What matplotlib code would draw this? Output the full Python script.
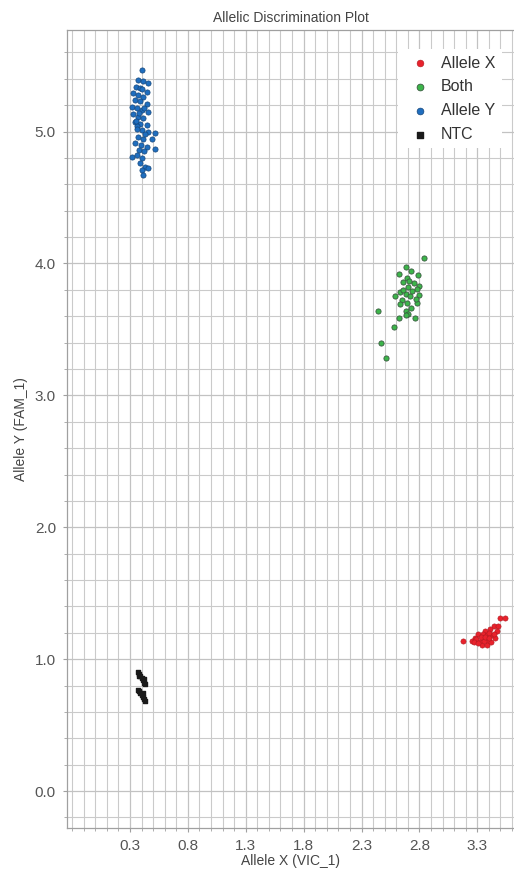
# Allelic discrimination scatter (VIC vs FAM)
import numpy as np
import matplotlib
matplotlib.use('Agg')
import matplotlib.pyplot as plt
from matplotlib.ticker import MultipleLocator, FixedLocator

plt.rcParams['font.family'] = ['Liberation Sans', 'DejaVu Sans']

# Allele X (red)
x_allele_x = [3.50, 3.54, 3.44, 3.48, 3.41, 3.37, 3.47, 3.31, 3.35, 3.38,
              3.42, 3.28, 3.35, 3.45, 3.25, 3.32, 3.39, 3.18, 3.29, 3.34,
              3.38, 3.27, 3.42, 3.40, 3.36, 3.31, 3.44, 3.33, 3.37, 3.40]
y_allele_x = [1.31, 1.31, 1.25, 1.25, 1.23, 1.21, 1.21, 1.19, 1.19, 1.18,
              1.18, 1.16, 1.16, 1.16, 1.14, 1.13, 1.14, 1.14, 1.15, 1.11,
              1.11, 1.13, 1.13, 1.20, 1.14, 1.12, 1.19, 1.17, 1.17, 1.16]

# Both (green)
x_both = [2.84, 2.68, 2.73, 2.62, 2.79, 2.69, 2.66, 2.75, 2.80, 2.70,
          2.78, 2.63, 2.68, 2.59, 2.80, 2.72, 2.65, 2.69, 2.78, 2.63,
          2.73, 2.68, 2.44, 2.70, 2.76, 2.62, 2.68, 2.58, 2.47, 2.51,
          2.71, 2.74, 2.66, 2.77]
y_both = [4.04, 3.97, 3.94, 3.92, 3.91, 3.89, 3.86, 3.85, 3.83, 3.82,
          3.81, 3.78, 3.77, 3.75, 3.76, 3.75, 3.72, 3.70, 3.70, 3.69,
          3.66, 3.64, 3.64, 3.62, 3.59, 3.59, 3.61, 3.52, 3.40, 3.28,
          3.87, 3.79, 3.80, 3.73]

# Allele Y (blue)
x_allele_y = [0.401, 0.366, 0.415, 0.458, 0.349, 0.386, 0.444, 0.328, 0.372, 0.415,
              0.343, 0.386, 0.444, 0.315, 0.358, 0.401, 0.458, 0.328, 0.372, 0.415,
              0.343, 0.386, 0.444, 0.358, 0.401, 0.458, 0.516, 0.372, 0.415, 0.343,
              0.395, 0.444, 0.487, 0.516, 0.378, 0.423, 0.315, 0.358, 0.401, 0.386,
              0.430, 0.401, 0.453, 0.415, 0.360, 0.420, 0.400, 0.380, 0.430, 0.350]
y_allele_y = [5.47, 5.39, 5.38, 5.37, 5.34, 5.33, 5.30, 5.29, 5.28, 5.26,
              5.24, 5.23, 5.21, 5.19, 5.18, 5.16, 5.15, 5.13, 5.11, 5.10,
              5.07, 5.06, 5.05, 5.04, 5.01, 5.00, 4.99, 4.96, 4.94, 4.91,
              4.90, 4.88, 4.94, 4.87, 4.86, 4.85, 4.81, 4.82, 4.80, 4.76,
              4.73, 4.71, 4.72, 4.67, 5.02, 5.18, 5.32, 5.14, 4.98, 5.08]

# No template control (black), two small slanted clumps
x_ntc = [0.37, 0.38, 0.39, 0.40, 0.41, 0.42, 0.43, 0.38, 0.42,
         0.37, 0.38, 0.39, 0.40, 0.41, 0.42, 0.43, 0.41]
y_ntc = [0.90, 0.89, 0.87, 0.86, 0.84, 0.82, 0.81, 0.87, 0.85,
         0.77, 0.76, 0.74, 0.73, 0.71, 0.70, 0.68, 0.74]

x_ticks = [0.3, 0.8, 1.3, 1.8, 2.3, 2.8, 3.3]
y_ticks = [0.0, 1.0, 2.0, 3.0, 4.0, 5.0]

W, H = 514, 874
fig = plt.figure(figsize=(W / 100, H / 100), dpi=100)
ax = fig.add_axes([67 / W, (H - 828) / H, (W - 67) / W, (828 - 30) / H])

ax.set_xlim(-0.244, 3.617)
ax.set_ylim(-0.28, 5.77)

ax.xaxis.set_major_locator(FixedLocator(x_ticks))
ax.xaxis.set_minor_locator(MultipleLocator(0.1))
ax.yaxis.set_major_locator(FixedLocator(y_ticks))
ax.yaxis.set_minor_locator(MultipleLocator(0.2))
ax.set_xticklabels([f'{v:.1f}' for v in x_ticks])
ax.set_yticklabels([f'{v:.1f}' for v in y_ticks])

ax.grid(True, which='major', color='#c2c2c2', linewidth=0.9)
ax.grid(True, which='minor', color='#cacaca', linewidth=0.8)
ax.set_axisbelow(True)

ax.scatter(x_allele_x, y_allele_x, s=14, color='#e8222c', edgecolors='#b01820',
           linewidths=0.4, label='Allele X', zorder=3)
ax.scatter(x_both, y_both, s=14, color='#3cb54a', edgecolors='#3a5a40',
           linewidths=0.6, label='Both', zorder=3)
ax.scatter(x_allele_y, y_allele_y, s=14, color='#1f6ebf', edgecolors='#15467a',
           linewidths=0.5, label='Allele Y', zorder=3)
ax.scatter(x_ntc, y_ntc, s=12, marker='s', color='#1a1a1a', label='NTC', zorder=3)

for side in ['left', 'bottom', 'top']:
    ax.spines[side].set_color('#a0a0a0')
    ax.spines[side].set_linewidth(0.9)
ax.spines['right'].set_visible(False)

ax.tick_params(which='both', colors='#a0a0a0', labelcolor='#555555', labelsize=11, length=3, pad=5)
ax.tick_params(which='minor', length=2)

ax.set_title('Allelic Discrimination Plot', fontsize=10, color='#444444', pad=6)
ax.set_xlabel('Allele X (VIC_1)', fontsize=10, color='#444444', labelpad=1)
ax.set_ylabel('Allele Y (FAM_1)', fontsize=10, color='#444444')
ax.yaxis.set_label_coords(-0.087, 0.5)

leg = ax.legend(loc='upper left', bbox_to_anchor=(0.74, 0.976), borderaxespad=0,
                fontsize=11.5, frameon=True, framealpha=1, edgecolor='none',
                handletextpad=0.3, labelspacing=0.55, markerscale=1.3,
                borderpad=0.4, fancybox=False)
for t in leg.get_texts():
    t.set_color('#333333')

fig.savefig('out.png', dpi=100)
print("saved")
